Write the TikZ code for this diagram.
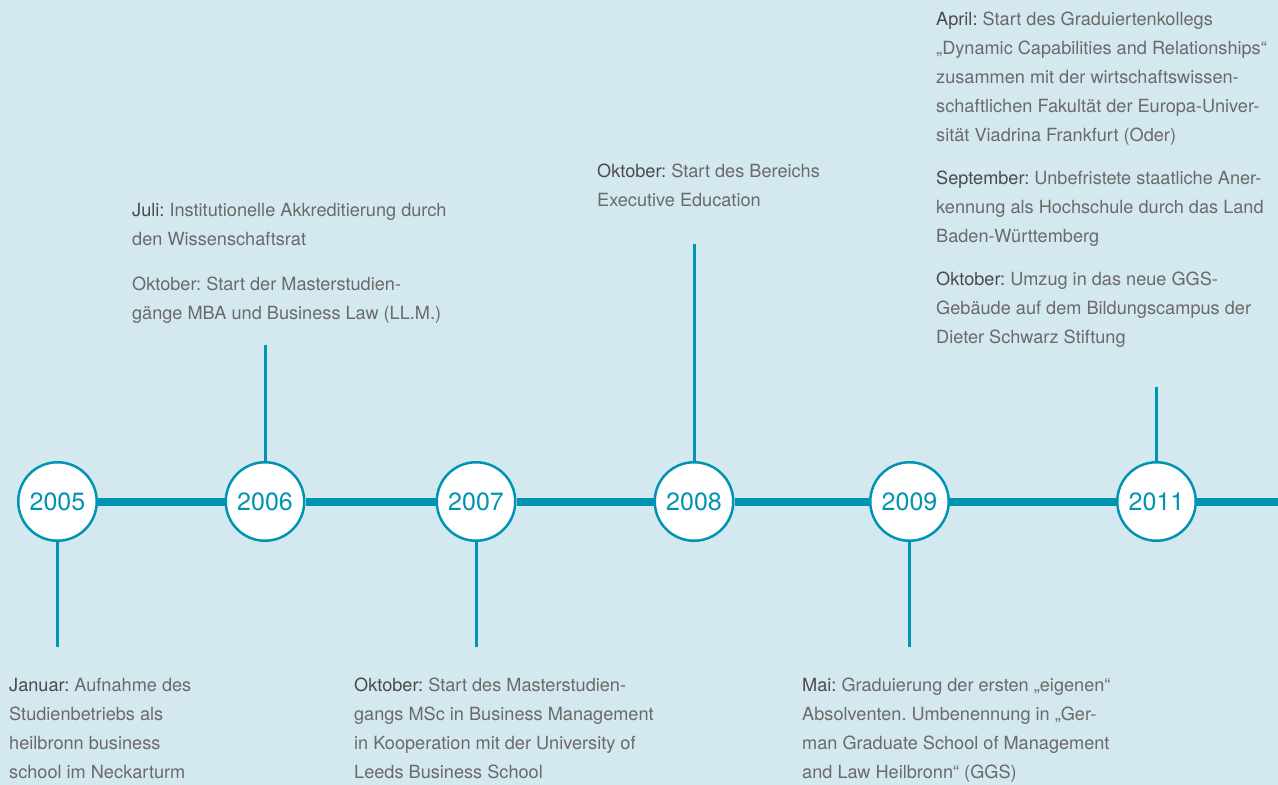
\documentclass[tikz,border=0pt]{standalone}
\usepackage{fontspec}
\setmainfont{TeX Gyre Heros}
\definecolor{bgblue}{HTML}{D4E8EF}
\definecolor{teal}{HTML}{0094B3}
\definecolor{bodygray}{HTML}{6A6A6A}
\definecolor{labgray}{HTML}{4A4A4A}
\newcommand\lab[1]{{\color{labgray}#1}}
\newcommand\fl{\rule{0pt}{14pt}}
\tikzset{
  year/.style={circle, draw=teal, line width=2.5pt, fill=white, inner sep=0pt,
    minimum size=78.5pt, text=teal, font=\fontsize{25}{28}\selectfont},
  mainline/.style={draw=teal, line width=8pt},
  tick/.style={draw=teal, line width=3pt},
  desc/.style={anchor=north west, inner sep=0pt, align=left, text=bodygray,
    font=\fontsize{18.15}{29}\selectfont\frenchspacing},
}
\begin{document}
\begin{tikzpicture}[x=1pt,y=-1pt]
\fill[bgblue] (0,0) rectangle (1278,785);
\useasboundingbox (0,0) rectangle (1278,785);

\node[year] (y2005) at (57.5,501.5) {2005};
\node[year] (y2006) at (265,501.5) {2006};
\node[year] (y2007) at (476,501.5) {2007};
\node[year] (y2008) at (694,501.5) {2008};
\node[year] (y2009) at (909.5,501.5) {2009};
\node[year] (y2011) at (1156.5,501.5) {2011};
\coordinate (lineend) at (1279,501.5);

\draw[mainline] (y2005) -- (y2006) -- (y2007) -- (y2008) -- (y2009) -- (y2011) -- (lineend);

\coordinate (t2005) at (57.5,647);
\coordinate (t2006) at (265,345);
\coordinate (t2007) at (476,647);
\coordinate (t2008) at (694,244);
\coordinate (t2009) at (909.5,647);
\coordinate (t2011) at (1156.5,387);
\draw[tick] (y2005) -- (t2005);
\draw[tick] (y2006) -- (t2006);
\draw[tick] (y2007) -- (t2007);
\draw[tick] (y2008) -- (t2008);
\draw[tick] (y2009) -- (t2009);
\draw[tick] (y2011) -- (t2011);

\node[desc] (d2005) at (9,677) {\fl\lab{Januar:} Aufnahme des\\Studienbetriebs als\\heilbronn business\\school im Neckarturm};
\node[desc] (d2007) at (354,677) {\fl\lab{Oktober:} Start des Masterstudien-\\gangs MSc in Business Management\\in Kooperation mit der University of\\Leeds Business School};
\node[desc] (d2009) at (802,677) {\fl\lab{Mai:} Graduierung der ersten „eigenen“\\Absolventen. Umbenennung in „Ger-\\man Graduate School of Management\\and Law Heilbronn“ (GGS)};
\node[desc] (d2006) at (132,202) {\fl\lab{Juli:} Institutionelle Akkreditierung durch\\den Wissenschaftsrat\\[16pt]Oktober: Start der Masterstudien-\\gänge MBA und Business Law (LL.M.)};
\node[desc] (d2008) at (597,163) {\fl\lab{Oktober:} Start des Bereichs\\Executive Education};
\node[desc] (d2011) at (936,11) {\fl\lab{April:} Start des Graduiertenkollegs\\„Dynamic Capabilities and Relationships“\\zusammen mit der wirtschaftswissen-\\schaftlichen Fakultät der Europa-Univer-\\sität Viadrina Frankfurt (Oder)\\[14pt]\lab{September:} Unbefristete staatliche Aner-\\kennung als Hochschule durch das Land\\Baden-Württemberg\\[14pt]\lab{Oktober:} Umzug in das neue GGS-\\Gebäude auf dem Bildungscampus der\\Dieter Schwarz Stiftung};
\end{tikzpicture}
\end{document}
